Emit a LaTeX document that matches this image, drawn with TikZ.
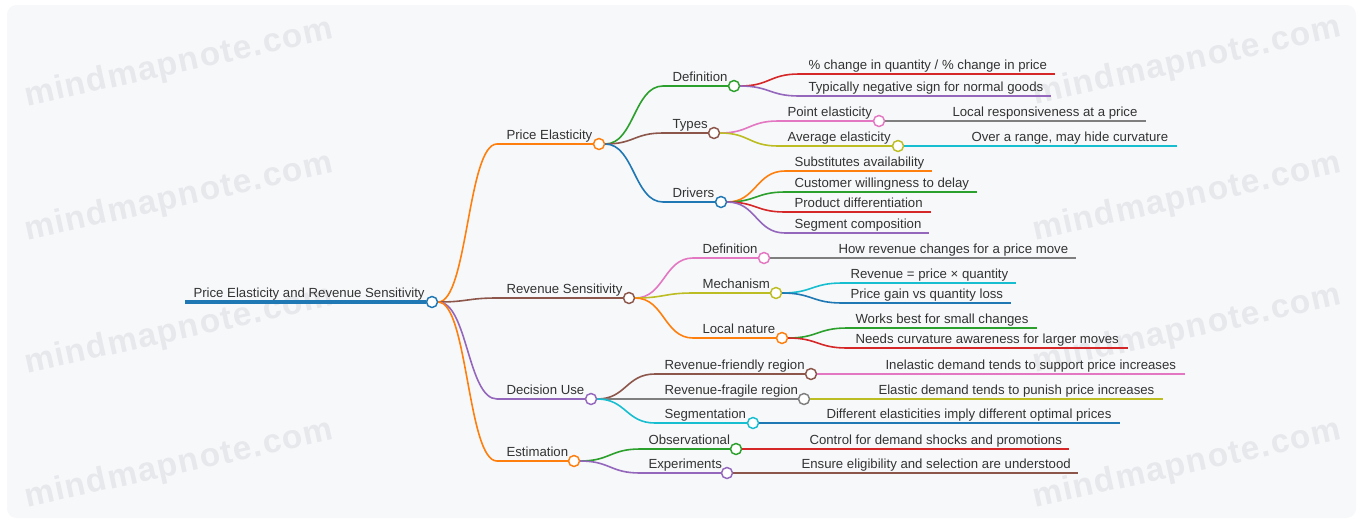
\documentclass[tikz,border=0pt]{standalone}
\usepackage{fontspec}
\setmainfont{Liberation Sans}
\newfontfamily\wmfont[LetterSpace=4.0]{Liberation Sans}
\usetikzlibrary{calc}

\definecolor{mmblue}{HTML}{1F77B4}
\definecolor{mmorange}{HTML}{FF7F0E}
\definecolor{mmgreen}{HTML}{2CA02C}
\definecolor{mmred}{HTML}{D62728}
\definecolor{mmpurple}{HTML}{9467BD}
\definecolor{mmbrown}{HTML}{8C564B}
\definecolor{mmpink}{HTML}{E377C2}
\definecolor{mmgray}{HTML}{7F7F7F}
\definecolor{mmolive}{HTML}{BCBD22}
\definecolor{mmcyan}{HTML}{17BECF}
\definecolor{textgray}{HTML}{333333}
\definecolor{panel}{HTML}{F7F8FA}
\definecolor{wmgray}{HTML}{E7E8EB}

\tikzset{every picture/.style={line width=0.75pt},
  txt/.style={anchor=base west, inner sep=0pt, text=textgray, font=\fontsize{9.9pt}{12pt}\selectfont},
  wm/.style={rotate=12.5, inner sep=0pt, text=wmgray, font=\wmfont\bfseries\fontsize{25pt}{28pt}\selectfont},
  hub/.style={circle, draw=#1, fill=white, line width=1.1pt, minimum size=8.25pt, inner sep=0pt},
  rule/.style={draw=#1, line width=1.5pt},
  link/.style={draw=#1, line width=1.2pt,
    to path={let \p1=(\tikztostart), \p2=(\tikztotarget) in
      .. controls ({(\x1+\x2)/2},\y1) and ({(\x1+\x2)/2},\y2) .. (\tikztotarget)}},
}

\begin{document}
\begin{tikzpicture}[x=0.75pt,y=0.75pt,yscale=-1,xscale=1]
\useasboundingbox (0,0) rectangle (1361,522);
%Panel
\fill[panel, rounded corners=7pt] (7,5) rectangle (1356,518);
%Watermarks
\node[wm] (wm1) at (179,64) {mindmapnote.com};
\node[wm] (wm2) at (179,198) {mindmapnote.com};
\node[wm] (wm3) at (179,331) {mindmapnote.com};
\node[wm] (wm4) at (179,465) {mindmapnote.com};
\node[wm] (wm5) at (1187,62) {mindmapnote.com};
\node[wm] (wm6) at (1187,198) {mindmapnote.com};
\node[wm] (wm7) at (1187,330) {mindmapnote.com};
\node[wm] (wm8) at (1187,465) {mindmapnote.com};

%Root
\coordinate (root-s) at (185,302);
\node[hub=mmblue] (root) at (432,302) {};
\draw[rule=mmblue, line width=2.5pt] (root-s) -- (root.west);
\node[txt] (root-t) at (193,297) {Price Elasticity and Revenue Sensitivity};

%Level 1
\coordinate (pe-s) at (497,144);
\coordinate (rs-s) at (497,298);
\coordinate (du-s) at (497,399);
\coordinate (est-s) at (497,461);
\node[hub=mmorange] (pe) at (599,144) {};
\node[hub=mmbrown] (rs) at (629,298) {};
\node[hub=mmpurple] (du) at (591,399) {};
\node[hub=mmorange] (est) at (574,461) {};
\draw[link=mmorange] (root.east) to (pe-s);
\draw[link=mmbrown] (root.east) to (rs-s);
\draw[link=mmpurple] (root.east) to (du-s);
\draw[link=mmorange] (root.east) to (est-s);
\draw[rule=mmorange] (pe-s) -- (pe.west);
\draw[rule=mmbrown] (rs-s) -- (rs.west);
\draw[rule=mmpurple] (du-s) -- (du.west);
\draw[rule=mmorange] (est-s) -- (est.west);
\node[txt] (pe-t) at (506,139) {Price Elasticity};
\node[txt] (rs-t) at (506,293) {Revenue Sensitivity};
\node[txt] (du-t) at (506,394) {Decision Use};
\node[txt] (est-t) at (506,456) {Estimation};

%Price Elasticity
\coordinate (pe-def-s) at (663,86);
\coordinate (pe-typ-s) at (663,133);
\coordinate (pe-drv-s) at (663,202);
\node[hub=mmgreen] (pe-def) at (734,86) {};
\node[hub=mmbrown] (pe-typ) at (714,133) {};
\node[hub=mmblue] (pe-drv) at (721,202) {};
\draw[link=mmgreen] (pe.east) to (pe-def-s);
\draw[link=mmbrown] (pe.east) to (pe-typ-s);
\draw[link=mmblue] (pe.east) to (pe-drv-s);
\draw[rule=mmgreen] (pe-def-s) -- (pe-def.west);
\draw[rule=mmbrown] (pe-typ-s) -- (pe-typ.west);
\draw[rule=mmblue] (pe-drv-s) -- (pe-drv.west);
\node[txt] (pe-def-t) at (672,81) {Definition};
\node[txt] (pe-typ-t) at (672,128) {Types};
\node[txt] (pe-drv-t) at (672,197) {Drivers};

%Definition leaves
\coordinate (pe-def1-s) at (799,74);
\coordinate (pe-def1-e) at (1055,74);
\coordinate (pe-def2-s) at (799,96);
\coordinate (pe-def2-e) at (1051,96);
\draw[link=mmred] (pe-def.east) to (pe-def1-s);
\draw[link=mmpurple] (pe-def.east) to (pe-def2-s);
\draw[rule=mmred] (pe-def1-s) -- (pe-def1-e);
\draw[rule=mmpurple] (pe-def2-s) -- (pe-def2-e);
\node[txt] (pe-def1-t) at (808,69) {\% change in quantity / \% change in price};
\node[txt] (pe-def2-t) at (808,91) {Typically negative sign for normal goods};

%Types
\coordinate (pt-s) at (778,121);
\coordinate (avg-s) at (778,146);
\node[hub=mmpink] (pt) at (879,121) {};
\node[hub=mmolive] (avg) at (898,146) {};
\draw[link=mmpink] (pe-typ.east) to (pt-s);
\draw[link=mmolive] (pe-typ.east) to (avg-s);
\draw[rule=mmpink] (pt-s) -- (pt.west);
\draw[rule=mmolive] (avg-s) -- (avg.west);
\node[txt] (pt-t) at (787,116) {Point elasticity};
\node[txt] (avg-t) at (787,141) {Average elasticity};
\coordinate (pt1-s) at (944,121);
\coordinate (pt1-e) at (1146,121);
\coordinate (avg1-s) at (963,146);
\coordinate (avg1-e) at (1177,146);
\draw[link=mmgray] (pt.east) to (pt1-s);
\draw[link=mmcyan] (avg.east) to (avg1-s);
\draw[rule=mmgray] (pt1-s) -- (pt1-e);
\draw[rule=mmcyan] (avg1-s) -- (avg1-e);
\node[txt] (pt1-t) at (952,116) {Local responsiveness at a price};
\node[txt] (avg1-t) at (971,141) {Over a range, may hide curvature};

%Drivers leaves
\coordinate (drv1-s) at (785,171);
\coordinate (drv1-e) at (932,171);
\coordinate (drv2-s) at (785,192);
\coordinate (drv2-e) at (977,192);
\coordinate (drv3-s) at (785,212);
\coordinate (drv3-e) at (931,212);
\coordinate (drv4-s) at (785,233);
\coordinate (drv4-e) at (929,233);
\draw[link=mmorange] (pe-drv.east) to (drv1-s);
\draw[link=mmgreen] (pe-drv.east) to (drv2-s);
\draw[link=mmred] (pe-drv.east) to (drv3-s);
\draw[link=mmpurple] (pe-drv.east) to (drv4-s);
\draw[rule=mmorange] (drv1-s) -- (drv1-e);
\draw[rule=mmgreen] (drv2-s) -- (drv2-e);
\draw[rule=mmred] (drv3-s) -- (drv3-e);
\draw[rule=mmpurple] (drv4-s) -- (drv4-e);
\node[txt] (drv1-t) at (794,166) {Substitutes availability};
\node[txt] (drv2-t) at (794,187) {Customer willingness to delay};
\node[txt] (drv3-t) at (794,207) {Product differentiation};
\node[txt] (drv4-t) at (794,228) {Segment composition};

%Revenue Sensitivity
\coordinate (rs-def-s) at (693,258);
\coordinate (rs-mech-s) at (693,293);
\coordinate (rs-loc-s) at (693,338);
\node[hub=mmpink] (rs-def) at (764,258) {};
\node[hub=mmolive] (rs-mech) at (776,293) {};
\node[hub=mmorange] (rs-loc) at (782,338) {};
\draw[link=mmpink] (rs.east) to (rs-def-s);
\draw[link=mmolive] (rs.east) to (rs-mech-s);
\draw[link=mmorange] (rs.east) to (rs-loc-s);
\draw[rule=mmpink] (rs-def-s) -- (rs-def.west);
\draw[rule=mmolive] (rs-mech-s) -- (rs-mech.west);
\draw[rule=mmorange] (rs-loc-s) -- (rs-loc.west);
\node[txt] (rs-def-t) at (702,253) {Definition};
\node[txt] (rs-mech-t) at (702,288) {Mechanism};
\node[txt] (rs-loc-t) at (702,333) {Local nature};

%Revenue Sensitivity leaves
\coordinate (rs-def1-s) at (829,258);
\coordinate (rs-def1-e) at (1076,258);
\coordinate (mech1-s) at (842,283);
\coordinate (mech1-e) at (1016,283);
\coordinate (mech2-s) at (842,303);
\coordinate (mech2-e) at (1011,303);
\coordinate (loc1-s) at (847,328);
\coordinate (loc1-e) at (1037,328);
\coordinate (loc2-s) at (847,348);
\coordinate (loc2-e) at (1128,348);
\draw[link=mmgray] (rs-def.east) to (rs-def1-s);
\draw[link=mmcyan] (rs-mech.east) to (mech1-s);
\draw[link=mmblue] (rs-mech.east) to (mech2-s);
\draw[link=mmgreen] (rs-loc.east) to (loc1-s);
\draw[link=mmred] (rs-loc.east) to (loc2-s);
\draw[rule=mmgray] (rs-def1-s) -- (rs-def1-e);
\draw[rule=mmcyan] (mech1-s) -- (mech1-e);
\draw[rule=mmblue] (mech2-s) -- (mech2-e);
\draw[rule=mmgreen] (loc1-s) -- (loc1-e);
\draw[rule=mmred] (loc2-s) -- (loc2-e);
\node[txt] (rs-def1-t) at (838,253) {How revenue changes for a price move};
\node[txt] (mech1-t) at (850,278) {Revenue = price × quantity};
\node[txt] (mech2-t) at (850,298) {Price gain vs quantity loss};
\node[txt] (loc1-t) at (855,323) {Works best for small changes};
\node[txt] (loc2-t) at (855,343) {Needs curvature awareness for larger moves};

%Decision Use
\coordinate (du-fr-s) at (655,374);
\coordinate (du-fg-s) at (655,399);
\coordinate (du-seg-s) at (655,423);
\node[hub=mmbrown] (du-fr) at (811,374) {};
\node[hub=mmgray] (du-fg) at (804,399) {};
\node[hub=mmcyan] (du-seg) at (753,423) {};
\draw[link=mmbrown] (du.east) to (du-fr-s);
\draw[link=mmgray] (du.east) to (du-fg-s);
\draw[link=mmcyan] (du.east) to (du-seg-s);
\draw[rule=mmbrown] (du-fr-s) -- (du-fr.west);
\draw[rule=mmgray] (du-fg-s) -- (du-fg.west);
\draw[rule=mmcyan] (du-seg-s) -- (du-seg.west);
\node[txt] (du-fr-t) at (664,369) {Revenue-friendly region};
\node[txt] (du-fg-t) at (664,394) {Revenue-fragile region};
\node[txt] (du-seg-t) at (664,418) {Segmentation};
\coordinate (fr1-s) at (877,374);
\coordinate (fr1-e) at (1185,374);
\coordinate (fg1-s) at (870,399);
\coordinate (fg1-e) at (1163,399);
\coordinate (seg1-s) at (818,423);
\coordinate (seg1-e) at (1120,423);
\draw[link=mmpink] (du-fr.east) to (fr1-s);
\draw[link=mmolive] (du-fg.east) to (fg1-s);
\draw[link=mmblue] (du-seg.east) to (seg1-s);
\draw[rule=mmpink] (fr1-s) -- (fr1-e);
\draw[rule=mmolive] (fg1-s) -- (fg1-e);
\draw[rule=mmblue] (seg1-s) -- (seg1-e);
\node[txt] (fr1-t) at (885,369) {Inelastic demand tends to support price increases};
\node[txt] (fg1-t) at (878,394) {Elastic demand tends to punish price increases};
\node[txt] (seg1-t) at (826,418) {Different elasticities imply different optimal prices};

%Estimation
\coordinate (est-obs-s) at (640,449);
\coordinate (est-exp-s) at (640,473);
\node[hub=mmgreen] (est-obs) at (736,449) {};
\node[hub=mmpurple] (est-exp) at (727,473) {};
\draw[link=mmgreen] (est.east) to (est-obs-s);
\draw[link=mmpurple] (est.east) to (est-exp-s);
\draw[rule=mmgreen] (est-obs-s) -- (est-obs.west);
\draw[rule=mmpurple] (est-exp-s) -- (est-exp.west);
\node[txt] (est-obs-t) at (648,444) {Observational};
\node[txt] (est-exp-t) at (648,468) {Experiments};
\coordinate (obs1-s) at (801,449);
\coordinate (obs1-e) at (1069,449);
\coordinate (exp1-s) at (793,473);
\coordinate (exp1-e) at (1078,473);
\draw[link=mmred] (est-obs.east) to (obs1-s);
\draw[link=mmbrown] (est-exp.east) to (exp1-s);
\draw[rule=mmred] (obs1-s) -- (obs1-e);
\draw[rule=mmbrown] (exp1-s) -- (exp1-e);
\node[txt] (obs1-t) at (809,444) {Control for demand shocks and promotions};
\node[txt] (exp1-t) at (801,468) {Ensure eligibility and selection are understood};
\end{tikzpicture}
\end{document}
